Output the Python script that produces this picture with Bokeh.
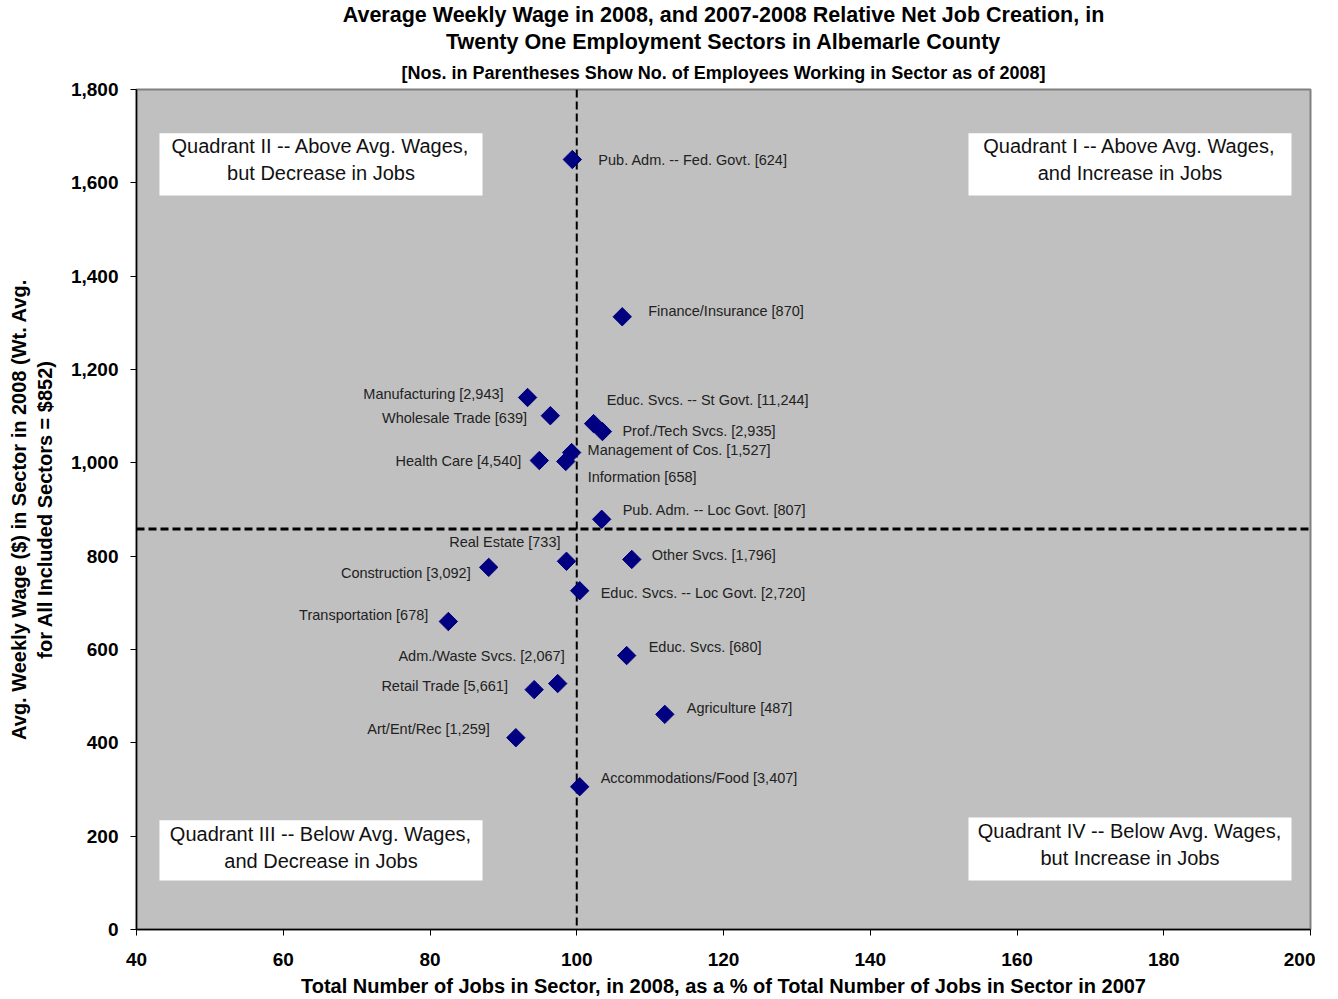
import math
from bokeh.plotting import figure
from bokeh.models import (ColumnDataSource, Range1d, FixedTicker, NumeralTickFormatter,
                          Span, BoxAnnotation, Label, Title)
from bokeh.core.properties import value
from bokeh.embed import file_html
from bokeh.resources import INLINE

# ---------------- data ----------------
sectors = [
    "Pub. Adm. -- Fed.  Govt.", "Finance/Insurance", "Manufacturing", "Wholesale Trade",
    "Educ. Svcs. -- St Govt.", "Prof./Tech Svcs.", "Management of Cos. ", "Information",
    "Health Care", "Pub. Adm. -- Loc Govt.", "Real Estate", "Other Svcs.",
    "Construction", "Educ. Svcs. -- Loc Govt.", "Transportation", "Educ. Svcs.",
    "Retail Trade", "Adm./Waste Svcs.", "Agriculture", "Art/Ent/Rec", "Accommodations/Food",
]
jobs_pct = [99.4, 106.2, 93.3, 96.4, 102.3, 103.5, 99.3, 98.5, 94.9, 103.4, 98.6, 107.5,
            88.0, 100.4, 82.5, 106.8, 94.2, 97.4, 112.0, 91.7, 100.4]
wages = [1650, 1313, 1140, 1101, 1084, 1067, 1022, 1003, 1005, 879, 789, 793,
         776, 726, 660, 587, 514, 527, 461, 411, 306]
employees = [624, 870, 2943, 639, 11244, 2935, 1527, 658, 4540, 807, 733, 1796,
             3092, 2720, 678, 680, 5661, 2067, 487, 1259, 3407]
avg_wage_line = 858
jobs_ref_line = 100
x_ticks = [40, 60, 80, 100, 120, 140, 160, 180, 200]
y_ticks = [0, 200, 400, 600, 800, 1000, 1200, 1400, 1600, 1800]

# label placement (screen px offsets, layout only)
lab_dx = [26, 26, -24, -23, 13, 20, 16, 22, -18, 21, -6, 20, -18, 21, -20, 22, -26, 7, 22, -26, 21]
lab_dy = [0, -6, -4, 2, -24, -1, -3, 16, 0, -9, -19, -4, 6, 2, -7, -9, -4, -28, -6, -9, -9]
lab_align = ["left", "left", "right", "right", "left", "left", "left", "left", "right", "left",
             "right", "left", "right", "left", "right", "left", "right", "right", "left", "right", "left"]

labels = [f"{s} [{e:,}]" for s, e in zip(sectors, employees)]

src = ColumnDataSource(dict(x=jobs_pct, y=wages, label=labels,
                            dx=lab_dx, dy=lab_dy, align=lab_align))

FONT = "Liberation Sans"

p = figure(frame_width=1174, frame_height=840, output_backend="svg", toolbar_location=None,
           x_range=Range1d(40, 200), y_range=Range1d(0, 1800),
           min_border_left=136, min_border_right=5, min_border_top=83, min_border_bottom=0)

p.background_fill_color = "#C0C0C0"
p.border_fill_color = "white"
p.outline_line_color = "#808080"
p.outline_line_width = 2
p.xgrid.visible = False
p.ygrid.visible = False

# titles (first added is closest to plot)
p.title.visible = False
p.add_layout(Title(text="[Nos. in Parentheses Show No. of Employees Working in Sector as of 2008]",
                   align="center", text_font=FONT, text_font_size="18px",
                   text_font_style="bold", text_color="black", standoff=14), "above")
p.add_layout(Title(text="Twenty One Employment Sectors in Albemarle County",
                   align="center", text_font=FONT, text_font_size="21.5px",
                   text_font_style="bold", text_color="black", standoff=0), "above")
p.add_layout(Title(text="Average Weekly Wage in 2008, and 2007-2008 Relative Net Job Creation, in",
                   align="center", text_font=FONT, text_font_size="21.5px",
                   text_font_style="bold", text_color="black", standoff=1), "above")

# axes
for ax in (p.xaxis[0], p.yaxis[0]):
    ax.axis_line_color = "black"
    ax.axis_line_width = 1.5
    ax.major_tick_line_color = "black"
    ax.major_tick_out = 6
    ax.major_tick_in = 0
    ax.minor_tick_line_color = None
    ax.major_label_text_font = FONT
    ax.major_label_text_font_size = "19px"
    ax.major_label_text_font_style = "bold"
    ax.major_label_text_color = "black"
    ax.axis_label_text_font = FONT
    ax.axis_label_text_font_size = "20px"
    ax.axis_label_text_font_style = "bold"
    ax.axis_label_text_color = "black"

p.xaxis.ticker = FixedTicker(ticks=x_ticks)
p.yaxis.ticker = FixedTicker(ticks=y_ticks)
p.yaxis.formatter = NumeralTickFormatter(format="0,0")
p.xaxis.major_label_standoff = 17
p.yaxis.major_label_standoff = 12
p.xaxis.axis_label = "Total Number of Jobs in Sector, in 2008, as a % of Total Number of Jobs in Sector in 2007"
p.yaxis.axis_label = "Avg. Weekly Wage ($) in Sector in 2008 (Wt. Avg.\nfor All Included Sectors = $852)"
p.xaxis.axis_label_standoff = 6
p.yaxis.axis_label_standoff = 12

# quadrant boxes
quad_boxes = [
    (43.13, 87.16, 1573, 1706, "Quadrant II -- Above Avg. Wages,\nbut Decrease in Jobs", 1650),
    (153.39, 197.41, 1573, 1706, "Quadrant I -- Above Avg. Wages,\nand Increase in Jobs", 1650),
    (43.13, 87.16, 105, 234, "Quadrant III -- Below Avg. Wages,\nand Decrease in Jobs", 176),
    (153.39, 197.41, 105, 240, "Quadrant IV -- Below Avg. Wages,\nbut Increase in Jobs", 182),
]
for l, r, b, t, txt, ty in quad_boxes:
    p.add_layout(BoxAnnotation(left=l, right=r, bottom=b, top=t, fill_color="white",
                               fill_alpha=1.0, line_color=None, level="underlay"))
    p.add_layout(Label(x=(l + r) / 2, y=ty, text=txt, text_align="center",
                       text_baseline="middle", text_font=FONT, text_font_size="20px",
                       text_color="#111111", level="overlay"))

# reference lines
p.add_layout(Span(location=jobs_ref_line, dimension="height", line_color="black",
                  line_width=2, line_dash="8 4", level="underlay"))
p.add_layout(Span(location=avg_wage_line, dimension="width", line_color="black",
                  line_width=3, line_dash="8 4", level="underlay"))

# points
p.scatter(x="x", y="y", source=src, marker="square", size=13, angle=math.pi / 4,
          fill_color="#000080", line_color="#000080")

# point labels
p.text(x="x", y="y", text="label", source=src, x_offset="dx", y_offset="dy",
       text_align="align", text_baseline="middle", text_font=value(FONT),
       text_font_size="14.5px", text_color="#222222")

open("out.html", "w").write(file_html(p, INLINE))
